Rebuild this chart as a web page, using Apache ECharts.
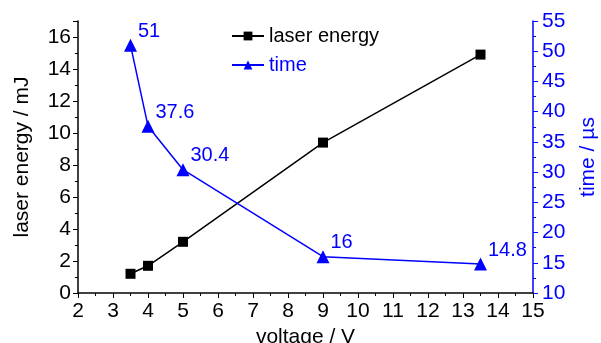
<!DOCTYPE html>
<html>
<head>
<meta charset="utf-8">
<script src="https://cdn.jsdelivr.net/npm/echarts@6/dist/echarts.min.js"></script>
<style>
  html, body { margin: 0; padding: 0; background: #fff; }
  #chart { width: 601px; height: 343px; }
</style>
</head>
<body>
<div id="chart"></div>
<script>
// voltage (V) vs laser energy (mJ) and time (µs)
const voltage = [3.5, 4, 5, 9, 13.5];
const laserEnergy = [1.2, 1.7, 3.2, 9.4, 14.9];
const timeUs = [51, 37.6, 30.4, 16, 14.8];

const FONT = "Liberation Sans";
const BLUE = "#0000ff";
const pair = (xs, ys) => xs.map((x, i) => [x, ys[i]]);

const chart = echarts.init(document.getElementById("chart"));
chart.setOption({
  animation: false,
  backgroundColor: "#fff",
  textStyle: { fontFamily: FONT },
  grid: { left: 78, right: 68, top: 21, bottom: 50, outerBoundsMode: "none" },
  legend: {
    orient: "vertical", left: 226, top: 21, itemGap: 9,
    itemWidth: 32, itemHeight: 11,
    textStyle: { fontSize: 20, fontFamily: FONT },
    data: [
      { name: "laser energy", textStyle: { color: "#000" } },
      { name: "time", textStyle: { color: BLUE } },
    ],
  },
  xAxis: {
    type: "value", min: 2, max: 15, interval: 1,
    name: "voltage / V", nameLocation: "middle", nameGap: 29,
    nameTextStyle: { fontSize: 21, color: "#000" },
    axisLine: { lineStyle: { color: "#000", width: 1.5 } },
    axisTick: { length: 5, lineStyle: { color: "#000" } },
    minorTick: { show: true, splitNumber: 2, length: 3, lineStyle: { color: "#000" } },
    axisLabel: { fontSize: 21, color: "#000", margin: 8 },
    splitLine: { show: false },
  },
  yAxis: [
    {
      type: "value", min: 0, max: 17, interval: 2, position: "left",
      name: "laser energy / mJ", nameLocation: "middle", nameGap: 45, nameRotate: 90,
      nameTextStyle: { fontSize: 21, color: "#000" },
      axisLine: { show: true, lineStyle: { color: "#000", width: 1.5 } },
      axisTick: { show: true, length: 5, lineStyle: { color: "#000" } },
      minorTick: { show: true, splitNumber: 2, length: 3, lineStyle: { color: "#000" } },
      axisLabel: { fontSize: 21, color: "#000", margin: 7, showMaxLabel: false },
      splitLine: { show: false },
    },
    {
      type: "value", min: 10, max: 55, interval: 5, position: "right",
      name: "time / µs", nameLocation: "middle", nameGap: 45, nameRotate: 90,
      nameTextStyle: { fontSize: 21, color: BLUE },
      axisLine: { show: true, lineStyle: { color: BLUE, width: 1.5 } },
      axisTick: { show: true, length: 5, lineStyle: { color: BLUE } },
      minorTick: { show: true, splitNumber: 2, length: 3, lineStyle: { color: BLUE } },
      axisLabel: { fontSize: 21, color: BLUE, margin: 9 },
      splitLine: { show: false },
    },
  ],
  series: [
    {
      name: "laser energy", type: "line", yAxisIndex: 0,
      data: pair(voltage, laserEnergy),
      symbol: "rect", symbolSize: 10,
      itemStyle: { color: "#000" },
      lineStyle: { color: "#000", width: 1.5 },
    },
    {
      name: "time", type: "line", yAxisIndex: 1,
      data: pair(voltage, timeUs),
      symbol: "triangle", symbolSize: 13,
      itemStyle: { color: BLUE },
      lineStyle: { color: BLUE, width: 1.5 },
      label: {
        show: true, position: "right", offset: [-4, -14],
        fontSize: 20, color: BLUE,
        formatter: (p) => String(p.value[1]),
      },
    },
  ],
});
</script>
</body>
</html>
